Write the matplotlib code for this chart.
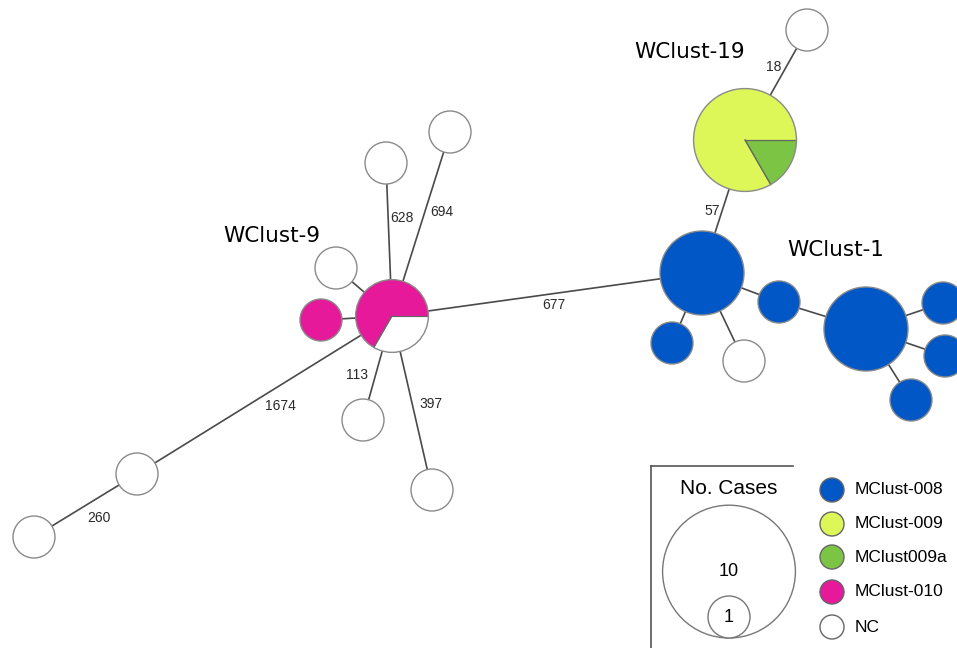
import numpy as np
import matplotlib.pyplot as plt
from matplotlib.patches import Wedge, Circle

# cluster colours
clusters = ['MClust-008', 'MClust-009', 'MClust009a', 'MClust-010', 'NC']
colors = {'MClust-008': '#0157c6', 'MClust-009': '#ddf658', 'MClust009a': '#7cc444',
          'MClust-010': '#e6199b', 'NC': '#ffffff'}

# nodes: cases per cluster
node_names = ['p0', 'p1', 'n1', 'n2', 'n3', 'n4', 'n5', 'n6', 'n7',
              'b1', 'y1', 'n8', 'b2', 'b3', 'b4', 'b5', 'b6', 'b7', 'n9']
node_cases = [
    {'MClust-010': 2, 'NC': 1},
    {'MClust-010': 1},
    {'NC': 1}, {'NC': 1}, {'NC': 1}, {'NC': 1}, {'NC': 1}, {'NC': 1}, {'NC': 1},
    {'MClust-008': 4},
    {'MClust-009': 5, 'MClust009a': 1},
    {'NC': 1},
    {'MClust-008': 1},
    {'MClust-008': 4},
    {'MClust-008': 1}, {'MClust-008': 1}, {'MClust-008': 1}, {'MClust-008': 1},
    {'NC': 1},
]
# layout (pixel positions)
node_x = [392, 321, 336, 386, 450, 363, 432, 137, 34,
          702, 745, 807, 779, 866, 943, 945, 911, 672, 744]
node_y = [316, 320, 268, 163, 132, 420, 490, 474, 537,
          273, 140, 30, 302, 329, 303, 356, 400, 343, 361]

# edges with allele distance labels
edges = [('p0', 'b1', '677'), ('p0', 'p1', ''), ('p0', 'n1', ''),
         ('p0', 'n2', '628'), ('p0', 'n3', '694'), ('p0', 'n4', '113'),
         ('p0', 'n5', '397'), ('p0', 'n6', '1674'), ('n6', 'n7', '260'),
         ('b1', 'y1', '57'), ('y1', 'n8', '18'), ('b1', 'b2', ''),
         ('b2', 'b3', ''), ('b3', 'b4', ''), ('b3', 'b5', ''), ('b3', 'b6', ''),
         ('b1', 'b7', ''), ('b1', 'n9', '')]
label_pos = {'677': (554, 305), '628': (402, 218), '694': (442, 212),
             '113': (357, 375), '397': (431, 404), '1674': (280, 406),
             '260': (99, 518), '57': (712, 211), '18': (774, 67)}

groups = {'WClust-9': (272, 236), 'WClust-19': (690, 52), 'WClust-1': (836, 250)}

R1 = 21  # radius of a one-case node

fig = plt.figure(figsize=(9.57, 6.48), dpi=100)
ax = fig.add_axes([0, 0, 1, 1])
ax.set_xlim(0, 957)
ax.set_ylim(648, 0)
ax.set_aspect('equal')
ax.axis('off')

pos = {n: (x, y) for n, x, y in zip(node_names, node_x, node_y)}

for a, b, lab in edges:
    (x1, y1), (x2, y2) = pos[a], pos[b]
    ax.plot([x1, x2], [y1, y2], color='#4a4a4a', lw=1.2, zorder=1)
    if lab:
        lx, ly = label_pos[lab]
        ax.text(lx, ly, lab, fontsize=10, family='Liberation Sans', color='#2a2a2a',
                ha='center', va='center', zorder=3)

for n, cases in zip(node_names, node_cases):
    x, y = pos[n]
    total = sum(cases.values())
    r = R1 * np.sqrt(total)
    start = 0
    # main cluster first, counter-clockwise from 3 o'clock
    order = sorted(cases, key=lambda k: -cases[k])
    for c in order:
        end = start + 360 * cases[c] / total
        ax.add_patch(Wedge((x, y), r, -end, -start, facecolor=colors[c],
                           edgecolor='none', zorder=2))
        if len(cases) > 1:
            for ang in (start, end):
                t = np.radians(ang)
                ax.plot([x, x + r * np.cos(t)], [y, y - r * np.sin(t)],
                        color='#666666', lw=0.8, zorder=2.5)
        start = end
    ax.add_patch(Circle((x, y), r, facecolor='none', edgecolor='#8a8a8a', lw=1.0, zorder=2.6))

for name, (x, y) in groups.items():
    ax.text(x, y, name, fontsize=15.5, family='DejaVu Sans', ha='center', va='center', zorder=4)

# legend
ax.plot([651, 651], [466, 648], color='#555555', lw=1.2, zorder=4)
ax.plot([651, 793], [466, 466], color='#555555', lw=1.2, zorder=4)
ax.text(729, 488, 'No. Cases', fontsize=15, family='Liberation Sans', ha='center', va='center', zorder=4)
big_r = R1 * np.sqrt(10)
ax.add_patch(Circle((729, 638 - big_r), big_r, facecolor='white', edgecolor='#777777', lw=1.0, zorder=4))
ax.add_patch(Circle((729, 638 - R1), R1, facecolor='white', edgecolor='#777777', lw=1.0, zorder=4))
ax.text(729, 572, '10', fontsize=13, family='Liberation Sans', ha='center', va='center', zorder=5)
ax.text(729, 618, '1', fontsize=13, family='Liberation Sans', ha='center', va='center', zorder=5)
leg_y = [490, 524, 557, 592, 627]
for c, ly in zip(clusters, leg_y):
    ax.add_patch(Circle((832, ly), 12, facecolor=colors[c], edgecolor='#666666', lw=1.0, zorder=4))
    ax.text(855, ly, c, fontsize=12.5, family='Liberation Sans', ha='left', va='center', zorder=4)

fig.savefig('out.png', dpi=100)
